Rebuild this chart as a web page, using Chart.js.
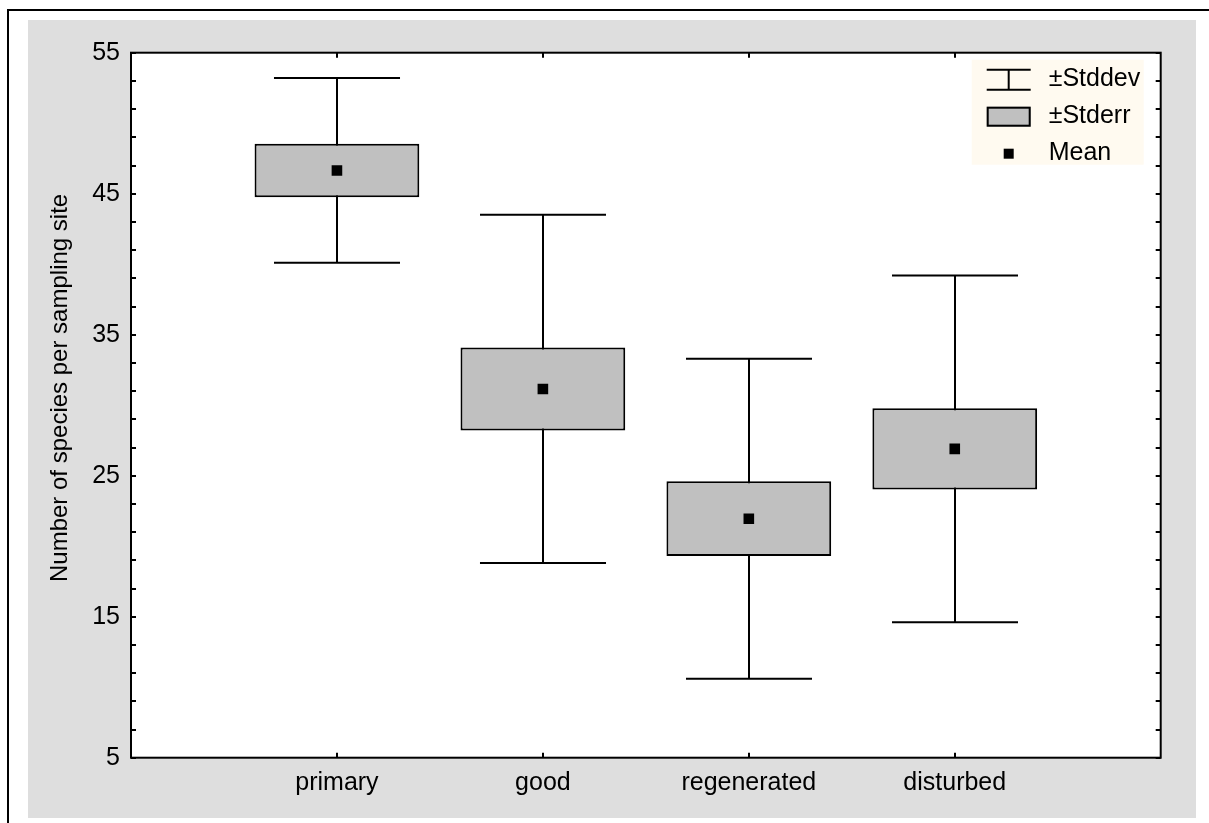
<!DOCTYPE html>
<html>
<head>
<meta charset="utf-8">
<script src="https://cdn.jsdelivr.net/npm/chart.js@4/dist/chart.umd.min.js"></script>
<style>
  html, body { margin: 0; padding: 0; background: #fff; }
  #wrap { width: 1209px; height: 823px; }
</style>
</head>
<body>
<div id="wrap"><canvas id="c" width="1209" height="823"></canvas></div>
<script>
// Species richness per habitat class: mean, standard error and standard deviation
const categories = ['primary', 'good', 'regenerated', 'disturbed'];
const means  = [46.65, 31.15, 21.95, 26.9];
const stderr = [1.9, 2.95, 2.65, 2.88];
const stddev = [6.55, 12.35, 11.35, 12.3];
const yTicks = [5, 15, 25, 35, 45, 55];
const yTitle = 'Number of species per sampling site';
const legendLabels = ['\u00B1Stddev', '\u00B1Stderr', 'Mean'];

const FONT_FAMILY = '"Liberation Sans", Arial, Helvetica, sans-serif';
const FONT_SIZE = 25;
const TITLE_SIZE = 24;
const BOX_FILL = '#C0C0C0';
const PANEL_GREY = '#DEDEDE';

// Page frame, grey panel and white plotting area
const backgroundPlugin = {
  id: 'panelBackground',
  beforeDraw(chart) {
    const { ctx, width, height, chartArea: a } = chart;
    ctx.save();
    ctx.fillStyle = '#fff';
    ctx.fillRect(0, 0, width, height);
    ctx.strokeStyle = '#000';
    ctx.lineWidth = 2;
    ctx.beginPath();
    ctx.moveTo(8, height);
    ctx.lineTo(8, 10);
    ctx.lineTo(width, 10);
    ctx.stroke();
    ctx.fillStyle = PANEL_GREY;
    ctx.fillRect(28, 20, 1168, 798);
    ctx.fillStyle = '#fff';
    ctx.fillRect(a.left, a.top, a.right - a.left, a.bottom - a.top);
    ctx.restore();
  }
};

// ±Stddev whiskers, drawn beneath the standard-error boxes
const whiskerPlugin = {
  id: 'stddevWhiskers',
  beforeDatasetsDraw(chart) {
    const { ctx, scales: { x, y } } = chart;
    const step = x.getPixelForValue(2) - x.getPixelForValue(1);
    const half = step * 0.306;
    ctx.save();
    ctx.strokeStyle = '#000';
    ctx.lineWidth = 2;
    categories.forEach((c, i) => {
      const px = Math.round(x.getPixelForValue(i + 1));
      const top = y.getPixelForValue(means[i] + stddev[i]);
      const bot = y.getPixelForValue(means[i] - stddev[i]);
      ctx.beginPath();
      ctx.moveTo(px, top); ctx.lineTo(px, bot);
      ctx.moveTo(px - half, top); ctx.lineTo(px + half, top);
      ctx.moveTo(px - half, bot); ctx.lineTo(px + half, bot);
      ctx.stroke();
    });
    ctx.restore();
  }
};

// Plot frame with inward tick marks, axis title and legend
const framePlugin = {
  id: 'frameAndLegend',
  afterDraw(chart) {
    const { ctx, chartArea: a, scales: { x, y } } = chart;
    ctx.save();
    ctx.strokeStyle = '#000';
    ctx.lineWidth = 2;
    ctx.strokeRect(a.left, a.top, a.right - a.left, a.bottom - a.top);

    // minor + major ticks on left and right edges
    ctx.beginPath();
    for (let v = y.min; v <= y.max + 1e-9; v += 2) {
      const py = Math.round(y.getPixelForValue(v));
      ctx.moveTo(a.left, py); ctx.lineTo(a.left + 5, py);
      ctx.moveTo(a.right, py); ctx.lineTo(a.right - 5, py);
    }
    categories.forEach((c, i) => {
      const px = Math.round(x.getPixelForValue(i + 1));
      ctx.moveTo(px, a.bottom); ctx.lineTo(px, a.bottom - 5);
      ctx.moveTo(px, a.top); ctx.lineTo(px, a.top + 5);
    });
    ctx.stroke();

    // y-axis title
    ctx.fillStyle = '#000';
    ctx.font = `${TITLE_SIZE}px ${FONT_FAMILY}`;
    ctx.translate(60, 582);
    ctx.rotate(-Math.PI / 2);
    ctx.textAlign = 'left';
    ctx.textBaseline = 'middle';
    ctx.fillText(yTitle, 0, 0);
    ctx.setTransform(1, 0, 0, 1, 0, 0);

    // legend box, top-right inside the plot
    const lx = a.right - 189, ly = a.top + 7;
    ctx.fillStyle = '#FFFAF0';
    ctx.fillRect(lx, ly, 172, 105);
    const ix = lx + 15, iw = 44, tx = lx + 77;
    const rows = [ly + 20, ly + 57, ly + 94];
    // whisker symbol
    ctx.strokeStyle = '#000';
    ctx.lineWidth = 2;
    ctx.beginPath();
    ctx.moveTo(ix, rows[0] - 10); ctx.lineTo(ix + iw, rows[0] - 10);
    ctx.moveTo(ix, rows[0] + 10); ctx.lineTo(ix + iw, rows[0] + 10);
    ctx.moveTo(ix + iw / 2, rows[0] - 10); ctx.lineTo(ix + iw / 2, rows[0] + 10);
    ctx.stroke();
    // box symbol
    ctx.fillStyle = BOX_FILL;
    ctx.fillRect(ix, rows[1] - 10, iw, 20);
    ctx.strokeRect(ix + 1, rows[1] - 9, iw - 2, 18);
    // mean symbol
    ctx.fillStyle = '#000';
    ctx.fillRect(ix + iw / 2 - 5, rows[2] - 5, 10, 10);
    // labels
    ctx.font = `${FONT_SIZE}px ${FONT_FAMILY}`;
    ctx.textAlign = 'left';
    ctx.textBaseline = 'middle';
    legendLabels.forEach((t, k) => ctx.fillText(t, tx, rows[k] - 1));
    ctx.restore();
  }
};

const tickFont = { family: FONT_FAMILY, size: FONT_SIZE };

new Chart(document.getElementById('c'), {
  type: 'bar',
  data: {
    labels: ['', ...categories, ''],
    datasets: [
      {
        label: legendLabels[1],
        order: 1,
        data: categories.map((c, i) => ({ x: c, y: [means[i] - stderr[i], means[i] + stderr[i]] })),
        backgroundColor: BOX_FILL,
        borderColor: '#000',
        borderWidth: 2,
        borderSkipped: false,
        categoryPercentage: 1,
        barPercentage: 0.8
      },
      {
        type: 'line',
        label: legendLabels[2],
        order: 0,
        data: categories.map((c, i) => ({ x: c, y: means[i] })),
        showLine: false,
        pointStyle: 'rect',
        pointRadius: 7.5,
        pointHoverRadius: 7.5,
        pointBorderWidth: 0,
        pointBackgroundColor: '#000',
        backgroundColor: '#000',
        borderColor: '#000'
      }
    ]
  },
  options: {
    responsive: false,
    animation: false,
    events: [],
    layout: { padding: { top: 52.7, right: 48.3, left: 0, bottom: 0 } },
    plugins: { legend: { display: false }, tooltip: { enabled: false } },
    scales: {
      x: {
        type: 'category',
        offset: false,
        grid: { display: false, drawTicks: false },
        border: { display: false },
        ticks: { font: tickFont, color: '#000', padding: 10, autoSkip: false, maxRotation: 0 },
        afterFit(s) { s.height = 65.3; }
      },
      y: {
        min: 5,
        max: 55,
        grid: { display: false, drawTicks: false },
        border: { display: false },
        ticks: { font: tickFont, color: '#000', padding: 11 },
        afterBuildTicks(s) { s.ticks = yTicks.map(v => ({ value: v })); },
        afterFit(s) { s.width = 131; }
      }
    }
  },
  plugins: [backgroundPlugin, whiskerPlugin, framePlugin]
});
</script>
</body>
</html>
